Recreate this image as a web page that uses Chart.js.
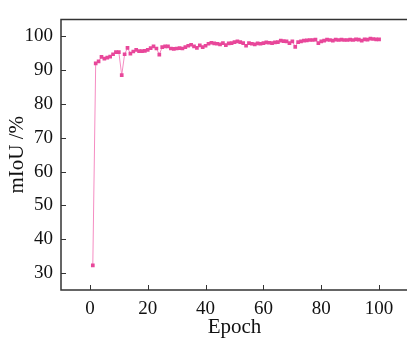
<!DOCTYPE html>
<html>
<head>
<meta charset="utf-8">
<script src="https://cdn.jsdelivr.net/npm/chart.js@4.4.0/dist/chart.umd.min.js"></script>
<style>
  html, body { margin: 0; padding: 0; background: #fff; overflow: hidden; }
  canvas { display: block; }
</style>
</head>
<body>
<canvas id="myChart" width="412" height="344"></canvas>
<script>
// mIoU per epoch
const epochs = [];
for (let i = 1; i <= 100; i++) epochs.push(i);

const miou = [
  32.3, 92.0, 92.6, 93.9, 93.4, 93.7, 94.0, 94.7, 95.3, 95.3,
  88.5, 94.7, 96.6, 94.9, 95.5, 96.0, 95.6, 95.6, 95.7, 96.0,
  96.5, 97.0, 96.4, 94.6, 96.8, 97.0, 97.0, 96.4, 96.3, 96.4,
  96.5, 96.4, 96.8, 97.2, 97.5, 97.0, 96.6, 97.3, 96.8, 97.2,
  97.8, 98.1, 97.9, 97.8, 97.6, 98.0, 97.4, 97.9, 98.0, 98.3,
  98.5, 98.3, 98.0, 97.2, 98.0, 97.8, 97.6, 97.9, 97.8, 98.0,
  98.2, 98.1, 98.0, 98.2, 98.3, 98.7, 98.6, 98.5, 98.0, 98.5,
  96.9, 98.3, 98.5, 98.7, 98.8, 98.9, 98.9, 99.0, 98.0, 98.5,
  98.7, 99.0, 98.9, 98.7, 99.0, 98.9, 99.0, 98.9, 98.9, 99.0,
  98.9, 99.1, 99.0, 98.7, 99.1, 99.0, 99.3, 99.2, 99.1, 99.1
];

const xTicks = [0, 20, 40, 60, 80, 100];
const yTicks = [30, 40, 50, 60, 70, 80, 90, 100];

const serif = "'Liberation Serif', 'DejaVu Serif', serif";

// frame (right side is cut off in the original) + inward tick marks
const framePlugin = {
  id: 'frame',
  afterDraw(chart) {
    const c = chart.ctx;
    const a = chart.chartArea;
    const xs = chart.scales.x;
    const ys = chart.scales.y;
    c.save();
    c.strokeStyle = '#333';
    c.lineWidth = 1.5;
    c.beginPath();
    c.moveTo(chart.width, a.top);
    c.lineTo(a.left, a.top);
    c.lineTo(a.left, a.bottom);
    c.lineTo(chart.width, a.bottom);
    c.stroke();
    c.lineWidth = 1;
    c.beginPath();
    xTicks.forEach(v => {
      const px = Math.round(xs.getPixelForValue(v)) + 0.5;
      c.moveTo(px, a.bottom);
      c.lineTo(px, a.bottom - 5);
    });
    yTicks.forEach(v => {
      const py = Math.round(ys.getPixelForValue(v)) + 0.5;
      c.moveTo(a.left, py);
      c.lineTo(a.left + 5, py);
    });
    c.stroke();
    c.restore();
  }
};

const ctx = document.getElementById('myChart').getContext('2d');
const myChart = new Chart(ctx, {
  type: 'line',
  data: {
    datasets: [{
      label: 'mIoU',
      data: epochs.map((e, i) => ({ x: e, y: miou[i] })),
      borderColor: '#f58cc2',
      borderWidth: 1,
      pointStyle: 'rect',
      pointRadius: 2.6,
      pointBackgroundColor: '#e8479a',
      pointBorderColor: '#e8479a',
      pointBorderWidth: 0,
      tension: 0
    }]
  },
  options: {
    responsive: false,
    animation: false,
    layout: { padding: { top: 8, right: 2, left: 0, bottom: 0 } },
    plugins: {
      legend: { display: false },
      tooltip: { enabled: false }
    },
    scales: {
      x: {
        type: 'linear',
        min: -10,
        max: 110,
        afterFit: s => { s.height = 54; },
        afterBuildTicks: s => { s.ticks = xTicks.map(v => ({ value: v })); },
        grid: { display: false, drawTicks: false },
        border: { display: false },
        ticks: {
          color: '#111',
          padding: 8,
          maxRotation: 0,
          font: { family: serif, size: 19 }
        },
        title: {
          display: true,
          text: 'Epoch',
          color: '#111',
          padding: { top: 0, bottom: 4 },
          font: { family: serif, size: 21 }
        }
      },
      y: {
        type: 'linear',
        min: 25,
        max: 105,
        afterFit: s => { s.width = 61; },
        afterBuildTicks: s => { s.ticks = yTicks.map(v => ({ value: v })); },
        grid: { display: false, drawTicks: false },
        border: { display: false },
        ticks: {
          color: '#111',
          padding: 8,
          font: { family: serif, size: 19 }
        },
        title: {
          display: true,
          text: 'mIoU /%',
          color: '#111',
          padding: { top: 5, bottom: 0 },
          font: { family: serif, size: 21 }
        }
      }
    }
  },
  plugins: [framePlugin]
});
</script>
</body>
</html>
